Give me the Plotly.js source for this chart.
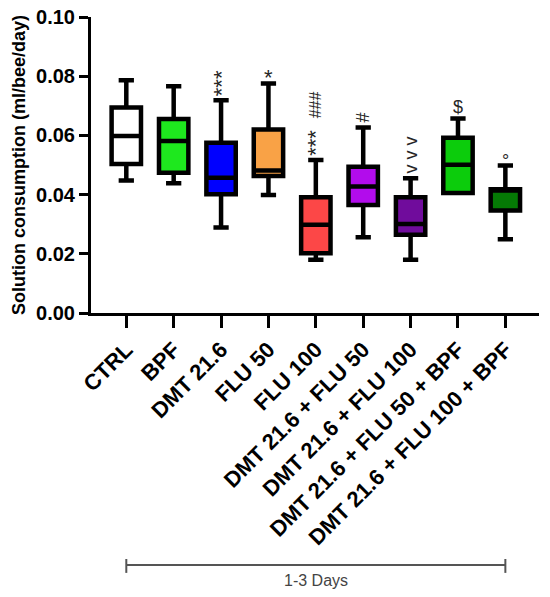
<!DOCTYPE html>
<html>
<head>
<meta charset="utf-8">
<script src="https://cdn.plot.ly/plotly-3.0.1.min.js"></script>
<style>html,body{margin:0;padding:0;background:#fff;}#chart{width:550px;height:597px;}</style>
</head>
<body>
<div id="chart"></div>
<script>
// ---- data ----
var categories = ['CTRL', 'BPF', 'DMT 21.6', 'FLU 50', 'FLU 100',
  'DMT 21.6 + FLU 50', 'DMT 21.6 + FLU 100', 'DMT 21.6 + FLU 50 + BPF', 'DMT 21.6 + FLU 100 + BPF'];
var lowerWhisker = [0.0448, 0.0438, 0.0289, 0.0399, 0.0180, 0.0256, 0.0180, 0.0405, 0.0249];
var q1Values     = [0.0503, 0.0474, 0.0401, 0.0463, 0.0202, 0.0365, 0.0264, 0.0405, 0.0346];
var medians      = [0.0598, 0.0581, 0.0457, 0.0481, 0.0298, 0.0427, 0.0301, 0.0501, 0.0414];
var q3Values     = [0.0694, 0.0655, 0.0575, 0.0620, 0.0391, 0.0494, 0.0391, 0.0592, 0.0418];
var upperWhisker = [0.0786, 0.0766, 0.0719, 0.0775, 0.0517, 0.0627, 0.0455, 0.0657, 0.0498];
var boxColors = ['#ffffff', '#1ee81e', '#0000ff', '#f9a246', '#fc4747',
  '#b20cec', '#700c9c', '#0ccc0c', '#057a05'];
var sigLabels = ['', '', '***', '*', '***', '#', 'v v v', '$', '°'];
var sigUpperLabels = ['', '', '', '', '###', '', '', '', ''];
var sigRotated = [false, false, true, false, true, true, true, false, false];
var yTickValues = [0, 0.02, 0.04, 0.06, 0.08, 0.10];
var periodLabel = '1-3 Days';

// ---- traces ----
var traces = categories.map(function (c, i) {
  return {
    type: 'box',
    x: [c],
    lowerfence: [lowerWhisker[i]],
    q1: [q1Values[i]],
    median: [medians[i]],
    q3: [q3Values[i]],
    upperfence: [upperWhisker[i]],
    boxpoints: false,
    width: 0.62,
    whiskerwidth: 0.52,
    fillcolor: boxColors[i],
    line: { color: '#000000', width: 4.5 },
    hoverinfo: 'skip',
    showlegend: false
  };
});

var sigFamily = 'Arial, Liberation Sans, sans-serif';
var sigColor = '#262626';
var annotations = [];
categories.forEach(function (c, i) {
  if (sigLabels[i]) {
    var shift = 0, size = 18;
    if (sigLabels[i] === '***') { shift = 2; size = 22; }
    else if (sigRotated[i]) shift = 3;
    else if (sigLabels[i] === '*') { shift = -8; size = 22; }
    else if (sigLabels[i] === '°') shift = -7;
    annotations.push({
      x: c, xref: 'x', y: upperWhisker[i], yref: 'y',
      text: sigLabels[i], showarrow: false,
      textangle: sigRotated[i] ? -90 : 0,
      xanchor: 'center', yanchor: 'bottom',
      yshift: shift,
      font: { family: sigFamily, size: size, color: sigColor }
    });
  }
  if (sigUpperLabels[i]) {
    annotations.push({
      x: c, xref: 'x', y: upperWhisker[i], yref: 'y',
      text: sigUpperLabels[i], showarrow: false,
      textangle: -90,
      xanchor: 'center', yanchor: 'bottom',
      yshift: 40,
      font: { family: sigFamily, size: 16, color: sigColor }
    });
  }
});
annotations.push({
  x: categories[4], xref: 'x', y: -0.905, yref: 'paper',
  text: periodLabel, showarrow: false, xanchor: 'center', yanchor: 'middle',
  font: { family: 'Arial, Liberation Sans, sans-serif', size: 16, color: '#444444' }
});

var bracketColor = '#555555';
var shapes = [
  { type: 'line', xref: 'x', yref: 'paper', x0: categories[0], x1: categories[8], y0: -0.851, y1: -0.851,
    line: { color: bracketColor, width: 2 } },
  { type: 'line', xref: 'x', yref: 'paper', x0: categories[0], x1: categories[0], y0: -0.831, y1: -0.878,
    line: { color: bracketColor, width: 2 } },
  { type: 'line', xref: 'x', yref: 'paper', x0: categories[8], x1: categories[8], y0: -0.831, y1: -0.878,
    line: { color: bracketColor, width: 2 } }
];

var layout = {
  width: 550, height: 597,
  margin: { l: 91, r: 11, t: 17, b: 284 },
  paper_bgcolor: '#ffffff', plot_bgcolor: '#ffffff',
  boxmode: 'overlay',
  showlegend: false,
  font: { family: 'Arial, Liberation Sans, sans-serif', color: '#000' },
  xaxis: {
    type: 'category',
    categoryorder: 'array', categoryarray: categories,
    range: [-0.745, 8.71],
    showline: true, linecolor: '#000', linewidth: 3,
    ticks: 'outside', ticklen: 12, tickwidth: 3, tickcolor: '#000',
    tickangle: -45,
    tickfont: { family: 'Arial, Liberation Sans, sans-serif', size: 22, weight: 'bold', color: '#000' },
    showgrid: false, zeroline: false, fixedrange: true
  },
  yaxis: {
    range: [0, 0.1],
    tickvals: yTickValues,
    tickformat: '.2f',
    showline: true, linecolor: '#000', linewidth: 3,
    ticks: 'outside', ticklen: 9, tickwidth: 3, tickcolor: '#000',
    tickfont: { family: 'Arial, Liberation Sans, sans-serif', size: 20, weight: 'bold', color: '#000' },
    title: { text: 'Solution consumption (ml/bee/day)', standoff: 6,
      font: { family: 'Arial, Liberation Sans, sans-serif', size: 18, weight: 'bold', color: '#000' } },
    showgrid: false, zeroline: false, fixedrange: true
  },
  annotations: annotations,
  shapes: shapes
};

Plotly.newPlot('chart', traces, layout, { displayModeBar: false, staticPlot: true });
</script>
</body>
</html>
